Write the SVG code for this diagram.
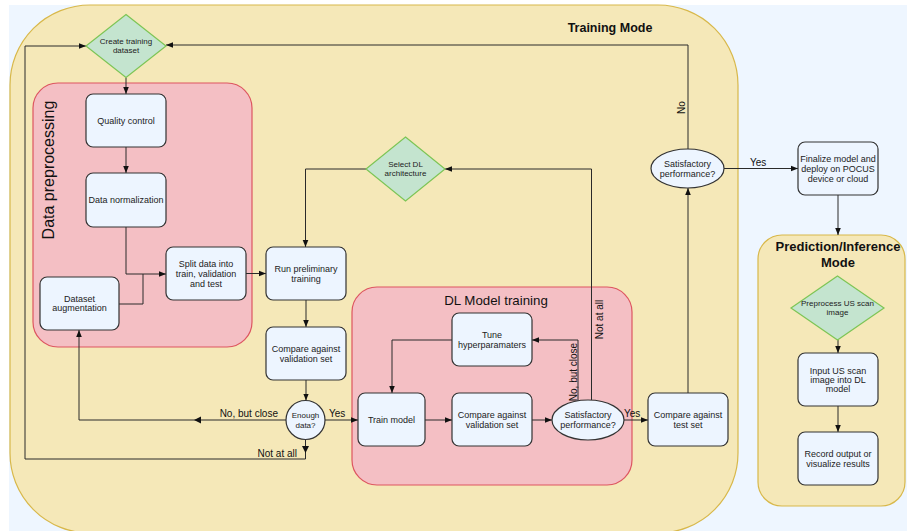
<svg xmlns="http://www.w3.org/2000/svg" width="907" height="531" viewBox="0 0 907 531">
<defs>
<style>
.cont{fill:#F5E8B8;stroke:#D8B84A;stroke-width:1.2}
.sub{fill:#F4BFC4;stroke:#DD5560;stroke-width:1.2}
.box{fill:#EDF5FF;stroke:#333;stroke-width:1.2}
.dia{fill:#C4E4CF;stroke:#7DC555;stroke-width:1.2}
.ell{fill:#EDF5FF;stroke:#333;stroke-width:1.2}
.t{font-family:"Liberation Sans",Arial,sans-serif;font-size:9px;fill:#222;text-anchor:middle}
.td{font-family:"Liberation Sans",Arial,sans-serif;font-size:8px;fill:#222;text-anchor:middle}
.lbl{font-family:"Liberation Sans",Arial,sans-serif;font-size:10px;fill:#111}
.title{font-family:"Liberation Sans",Arial,sans-serif;fill:#111;text-anchor:middle}
.c{fill:none;stroke:#2a2a2a;stroke-width:1}
</style>
<marker id="ah" viewBox="0 0 10 10" refX="10" refY="5" markerWidth="7" markerHeight="7" markerUnits="userSpaceOnUse" orient="auto">
<path d="M0,1 L10,5 L0,9 Z" fill="#111"/>
</marker>
</defs>
<rect x="0" y="0" width="907" height="531" fill="#FFFFFF"/>
<rect x="9" y="5" width="898" height="526" fill="#EEF6FF"/>

<g id="training-mode">
<rect class="cont" x="10" y="5" width="728" height="528" rx="80" ry="80"/>
<text class="title" x="610" y="32" font-size="12.5" font-weight="bold">Training Mode</text>
</g>
<g id="prediction-mode">
<rect class="cont" x="758" y="235" width="147" height="271" rx="24" ry="24"/>
<text class="title" x="838" y="251" font-size="13" font-weight="bold">Prediction/Inference</text>
<text class="title" x="838" y="267" font-size="13" font-weight="bold">Mode</text>
</g>
<g id="data-preprocessing">
<rect class="sub" x="33" y="83" width="219" height="264" rx="25" ry="25"/>
<text class="title" font-size="16" transform="translate(54,170) rotate(-90)">Data preprocessing</text>
</g>
<g id="dl-model-training">
<rect class="sub" x="352" y="287" width="280" height="198" rx="25" ry="25"/>
<text class="title" x="496" y="305" font-size="13.3">DL Model training</text>
</g>

<g id="connectors">
<path class="c" d="M126,77.5 V94" marker-end="url(#ah)"/>
<path class="c" d="M126,147 V173" marker-end="url(#ah)"/>
<path class="c" d="M126,227 V274 H166" marker-end="url(#ah)"/>
<path class="c" d="M119,304 H143 V274"/>
<path class="c" d="M246,273.5 H266" marker-end="url(#ah)"/>
<path class="c" d="M306,300 V327" marker-end="url(#ah)"/>
<path class="c" d="M306,380 V400.5" marker-end="url(#ah)"/>
<path class="c" d="M325,420 H358" marker-end="url(#ah)"/>
<path class="c" d="M286,420 H79 V330" marker-end="url(#ah)"/>
<path d="M194,420 L201,416.5 L201,423.5 Z" fill="#111"/>
<path class="c" d="M305.5,439.5 V459 H25 V46 H86" marker-end="url(#ah)"/>
<path d="M305.5,453 L302,446 L309,446 Z" fill="#111"/>
<path class="c" d="M425,420 H452" marker-end="url(#ah)"/>
<path class="c" d="M532,420 H552" marker-end="url(#ah)"/>
<path class="c" d="M624,420 H648" marker-end="url(#ah)"/>
<path class="c" d="M578,401 V340 H532" marker-end="url(#ah)"/>
<path class="c" d="M591.5,400 V169 H445" marker-end="url(#ah)"/>
<path class="c" d="M452,340 H392 V393" marker-end="url(#ah)"/>
<path class="c" d="M366,169 H305.5 V247" marker-end="url(#ah)"/>
<path class="c" d="M688,393 V188" marker-end="url(#ah)"/>
<path class="c" d="M688,149 V45 H166" marker-end="url(#ah)"/>
<path class="c" d="M724,168.5 H798" marker-end="url(#ah)"/>
<path class="c" d="M838,195 V235" marker-end="url(#ah)"/>
<path class="c" d="M838,340 V353" marker-end="url(#ah)"/>
<path class="c" d="M838,406 V432" marker-end="url(#ah)"/>
<text class="lbl" x="329" y="417">Yes</text>
<text class="lbl" x="278" y="417" text-anchor="end">No, but close</text>
<text class="lbl" x="297" y="457" text-anchor="end">Not at all</text>
<text class="lbl" x="624" y="417">Yes</text>
<text class="lbl" text-anchor="middle" transform="translate(577,372) rotate(-90)">No, but close</text>
<text class="lbl" text-anchor="middle" transform="translate(603,319.5) rotate(-90)">Not at all</text>
<text class="lbl" text-anchor="middle" transform="translate(685,107.5) rotate(-90)">No</text>
<text class="lbl" x="750" y="166">Yes</text>
</g>

<g id="create-training-dataset">
<path class="dia" d="M126,14.5 L166,46 L126,77.5 L86,46 Z"/>
<text class="td" x="126" y="44">Create training</text>
<text class="td" x="126" y="53">dataset</text>
</g>
<g id="quality-control">
<rect class="box" x="86" y="94" width="80" height="53" rx="7"/>
<text class="t" x="126" y="124">Quality control</text>
</g>
<g id="data-normalization">
<rect class="box" x="86" y="173" width="80" height="54" rx="7"/>
<text class="t" x="126" y="203">Data normalization</text>
</g>
<g id="dataset-augmentation">
<rect class="box" x="40" y="277" width="79" height="53" rx="7"/>
<text class="t" x="79.5" y="302">Dataset</text>
<text class="t" x="79.5" y="311">augmentation</text>
</g>
<g id="split-data">
<rect class="box" x="166" y="247" width="80" height="53" rx="7"/>
<text class="t" x="206" y="267">Split data into</text>
<text class="t" x="206" y="277">train, validation</text>
<text class="t" x="206" y="287">and test</text>
</g>
<g id="run-preliminary-training">
<rect class="box" x="266" y="247" width="80" height="53" rx="7"/>
<text class="t" x="306" y="272">Run preliminary</text>
<text class="t" x="306" y="282">training</text>
</g>
<g id="compare-validation-1">
<rect class="box" x="266" y="327" width="80" height="53" rx="7"/>
<text class="t" x="306" y="352">Compare against</text>
<text class="t" x="306" y="362">validation set</text>
</g>
<g id="enough-data">
<circle class="ell" cx="305.5" cy="420" r="19.5"/>
<text class="td" x="305.5" y="418" font-size="8.5">Enough</text>
<text class="td" x="305.5" y="428" font-size="8.5">data?</text>
</g>
<g id="select-dl-architecture">
<path class="dia" d="M405.5,137 L445,169 L405.5,201 L366,169 Z"/>
<text class="td" x="405.5" y="167">Select DL</text>
<text class="td" x="405.5" y="176">architecture</text>
</g>
<g id="tune-hyperparameters">
<rect class="box" x="452" y="313" width="80" height="53" rx="7"/>
<text class="t" x="492" y="338">Tune</text>
<text class="t" x="492" y="348">hyperparamaters</text>
</g>
<g id="train-model">
<rect class="box" x="358" y="393" width="67" height="53" rx="7"/>
<text class="t" x="391.5" y="423">Train model</text>
</g>
<g id="compare-validation-2">
<rect class="box" x="452" y="393" width="80" height="53" rx="7"/>
<text class="t" x="492" y="418">Compare against</text>
<text class="t" x="492" y="428">validation set</text>
</g>
<g id="satisfactory-inner">
<ellipse class="ell" cx="588" cy="420" rx="36" ry="20"/>
<text class="t" x="588" y="418">Satisfactory</text>
<text class="t" x="588" y="428">performance?</text>
</g>
<g id="compare-test">
<rect class="box" x="648" y="393" width="80" height="53" rx="7"/>
<text class="t" x="688" y="418">Compare against</text>
<text class="t" x="688" y="428">test set</text>
</g>
<g id="satisfactory-outer">
<ellipse class="ell" cx="687.5" cy="168.5" rx="36.5" ry="19.5"/>
<text class="t" x="687.5" y="167">Satisfactory</text>
<text class="t" x="687.5" y="177">performance?</text>
</g>
<g id="finalize-model">
<rect class="box" x="798" y="142" width="80" height="53" rx="7"/>
<text class="t" x="838" y="162">Finalize model and</text>
<text class="t" x="838" y="172">deploy on POCUS</text>
<text class="t" x="838" y="182">device or cloud</text>
</g>
<g id="preprocess-us-scan">
<path class="dia" d="M837.5,276 L884,308 L837.5,340 L791,308 Z"/>
<text class="td" x="837.5" y="306">Preprocess US scan</text>
<text class="td" x="837.5" y="315">image</text>
</g>
<g id="input-us-scan">
<rect class="box" x="798" y="353" width="80" height="53" rx="7"/>
<text class="t" x="838" y="374">Input US scan</text>
<text class="t" x="838" y="383">image into DL</text>
<text class="t" x="838" y="392">model</text>
</g>
<g id="record-output">
<rect class="box" x="798" y="432" width="80" height="53" rx="7"/>
<text class="t" x="838" y="457">Record output or</text>
<text class="t" x="838" y="467">visualize results</text>
</g>
</svg>
